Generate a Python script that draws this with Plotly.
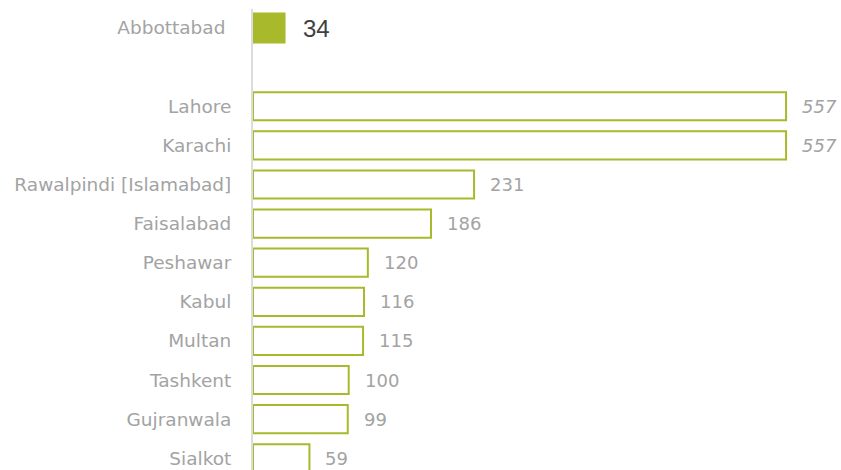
import plotly.graph_objects as go

# Cities and counts
highlight_city = "Abbottabad"
highlight_value = 34

cities = ["Lahore", "Karachi", "Rawalpindi [Islamabad]", "Faisalabad", "Peshawar",
          "Kabul", "Multan", "Tashkent", "Gujranwala", "Sialkot"]
values = [557, 557, 231, 186, 120, 116, 115, 100, 99, 59]
italic_labels = [True, True, False, False, False, False, False, False, False, False]

GREEN = "#a8b92c"
LABEL_GRAY = "#a3a3a3"
LABEL_FONT = "DejaVu Sans, sans-serif"

# Row positions: highlighted city on top, one empty row, then the ranked list
hl_pos = 0
positions = [i + 2 for i in range(len(cities))]

fig = go.Figure()

fig.add_trace(go.Bar(
    x=[highlight_value], y=[hl_pos], orientation="h", width=0.79,
    marker=dict(color=GREEN, line=dict(width=0)), hoverinfo="skip",
))

fig.add_trace(go.Bar(
    x=values, y=positions, orientation="h", width=0.72,
    marker=dict(color="white", line=dict(color=GREEN, width=2)), hoverinfo="skip",
))

annotations = [dict(
    x=highlight_value, y=hl_pos, xref="x", yref="y", text=str(highlight_value),
    showarrow=False, xanchor="left", yanchor="middle", xshift=15,
    font=dict(family="Liberation Sans, Arial", size=24, color="#404040"),
)]
for v, p, it in zip(values, positions, italic_labels):
    annotations.append(dict(
        x=v, y=p, xref="x", yref="y", text=f"<i>{v}</i>" if it else str(v),
        showarrow=False, xanchor="left", yanchor="middle", xshift=14,
        font=dict(family=LABEL_FONT, size=18, color=LABEL_GRAY),
    ))

fig.update_layout(
    width=841, height=470,
    margin=dict(l=253, r=0, t=9, b=0),
    paper_bgcolor="white", plot_bgcolor="white",
    showlegend=False,
    annotations=annotations,
    xaxis=dict(range=[0, 614.4], visible=False, fixedrange=True),
    yaxis=dict(
        range=[11.30, -0.486],
        tickmode="array",
        tickvals=[hl_pos] + positions,
        ticktext=[highlight_city + "\u00a0"] + cities,
        tickfont=dict(family=LABEL_FONT, size=18.5, color=LABEL_GRAY),
        ticks="", ticklabelstandoff=16,
        showline=True, linecolor="#dcdcdc", linewidth=2,
        showgrid=False, zeroline=False, fixedrange=True,
    ),
)

fig.write_html("out.html")
